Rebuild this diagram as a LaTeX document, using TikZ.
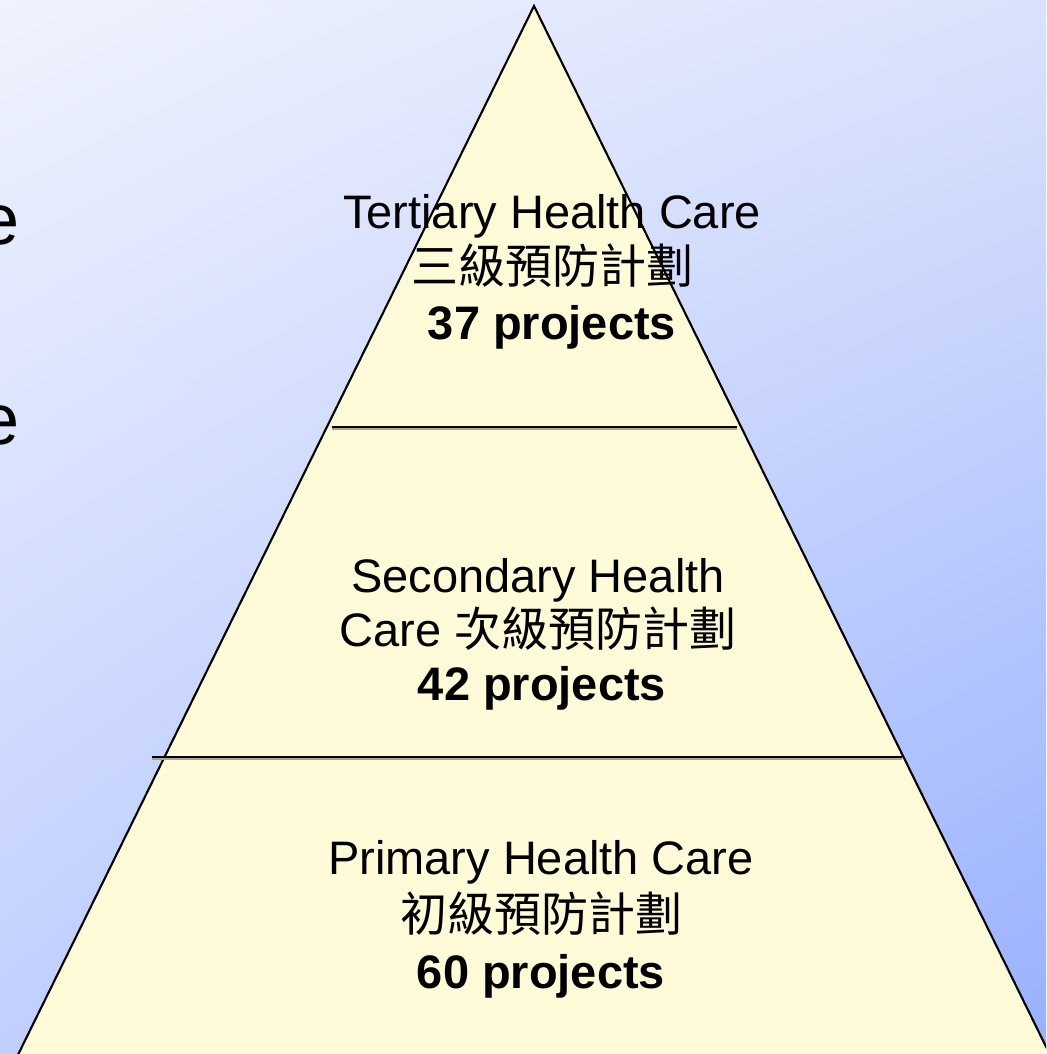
\documentclass[tikz,border=0pt]{standalone}
\usepackage{fontspec}
\setmainfont{Liberation Sans}
\newfontfamily\cjk{Noto Sans CJK TC}
\usetikzlibrary{shadings}
\definecolor{bgTL}{RGB}{240,243,253}
\definecolor{bgTR}{RGB}{218,226,251}
\definecolor{bgBL}{RGB}{192,207,255}
\definecolor{bgBR}{RGB}{152,176,255}
\definecolor{pyrfill}{RGB}{255,250,215}
\definecolor{shadowgray}{RGB}{170,165,140}
\tikzset{
  lbl/.style={inner sep=0pt, anchor=base, font=\fontsize{47}{56}\selectfont},
  boldlbl/.style={lbl, font=\fontsize{47}{56}\selectfont\bfseries},
  cjklbl/.style={lbl, font=\fontsize{47}{56}\selectfont\cjk},
  edgeline/.style={line width=2.1pt, line join=miter},
  tierline/.style={line width=2.8pt},
  tiershadow/.style={line width=1.6pt, draw=shadowgray},
  bigletter/.style={inner sep=0pt, anchor=base east, font=\fontsize{72}{80}\selectfont}
}
\begin{document}
\begin{tikzpicture}[x=1pt,y=-1pt]
\useasboundingbox (0,0) rectangle (1046,1054);
\shade[upper left=bgTL, upper right=bgTR, lower left=bgBL, lower right=bgBR] (0,0) rectangle (1046,1054);
\begin{scope}
\clip (0,0) rectangle (1046,1054);
\coordinate (apex) at (534,6);
\coordinate (bl) at (10.5,1070);
\coordinate (br) at (1057.5,1070);
\fill[pyrfill] (bl) -- (br) -- (apex) -- cycle;
\draw[edgeline] (bl) -- (apex) -- (br);
\end{scope}
% tier lines
\coordinate (l1a) at (332,427);
\coordinate (l1b) at (737,427);
\coordinate (l2a) at (152,757);
\coordinate (l2b) at (902,757);
\draw[tiershadow] ([yshift=-2pt]l1a) -- ([yshift=-2pt]l1b);
\draw[tiershadow] ([yshift=-2pt]l2a) -- ([yshift=-2pt]l2b);
\draw[tierline] (l1a) -- (l1b);
\draw[tierline] (l2a) -- (l2b);
% cut-off letters on the left
\node[bigletter] (e1) at (20,244) {e};
\node[bigletter] (e2) at (20,444) {e};
% Tertiary
\node[lbl] (t1) at (552,228) {Tertiary Health Care};
\node[cjklbl] (t2) at (552,283) {三級預防計劃};
\node[boldlbl] (t3) at (552,339) {37 projects};
% Secondary
\node[lbl] (s1) at (538,592) {Secondary Health};
\node[lbl] (s2) at (538,646) {Care {\cjk 次級預防計劃}};
\node[boldlbl] (s3) at (542,700) {42 projects};
% Primary
\node[lbl] (p1) at (541,874) {Primary Health Care};
\node[cjklbl] (p2) at (541,931) {初級預防計劃};
\node[boldlbl] (p3) at (541,988) {60 projects};
\end{tikzpicture}
\end{document}
